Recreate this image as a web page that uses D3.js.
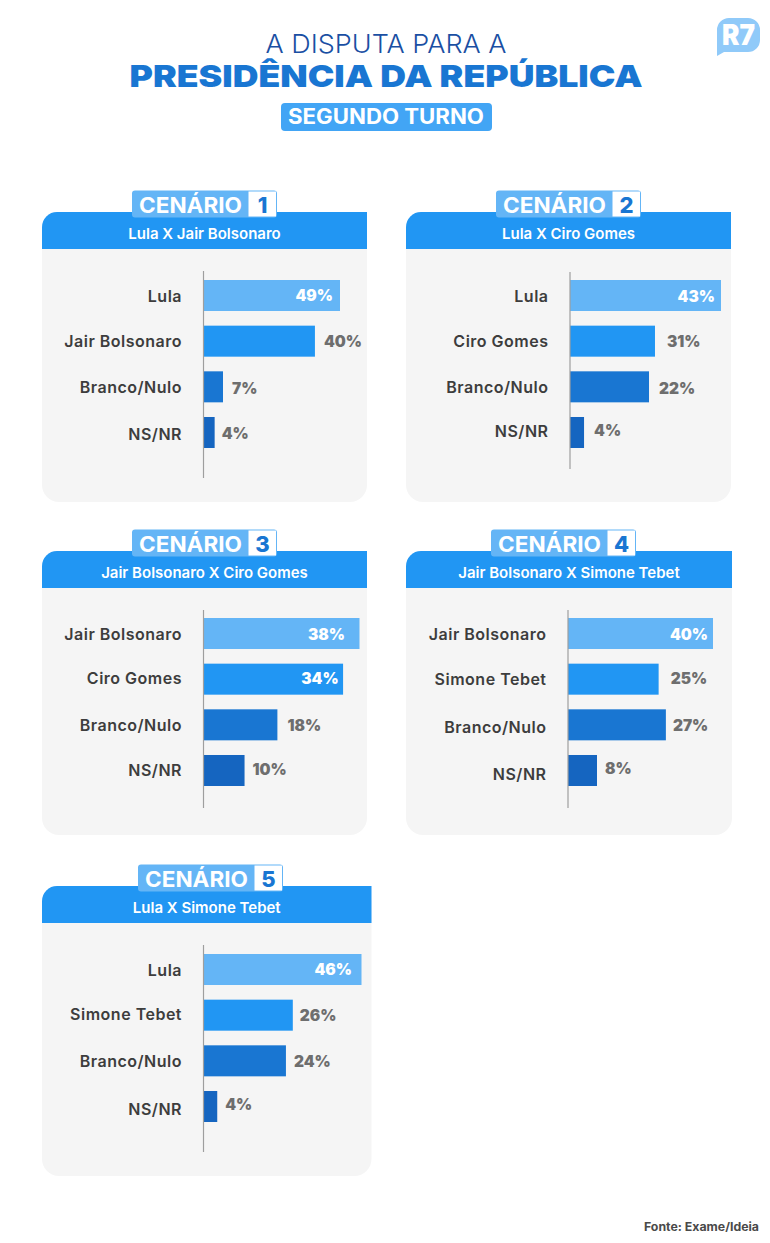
<!DOCTYPE html>
<html lang="pt-BR">
<head>
<meta charset="utf-8">
<title>A disputa para a Presidência da República</title>
<script src="https://cdn.jsdelivr.net/npm/d3@7"></script>
<style>
  html, body { margin: 0; padding: 0; background: #fff; }
  svg { display: block; }
  text { font-family: Inter, "Noto Sans", sans-serif; }
</style>
</head>
<body>
<div id="chart"></div>
<script>
// Values
const scenarioTitles = ["Lula X Jair Bolsonaro", "Lula X Ciro Gomes", "Jair Bolsonaro X Ciro Gomes", "Jair Bolsonaro X Simone Tebet", "Lula X Simone Tebet"];

const scenario1Names = ["Lula", "Jair Bolsonaro", "Branco/Nulo", "NS/NR"];
const scenario1Values = [49, 40, 7, 4];

const scenario2Names = ["Lula", "Ciro Gomes", "Branco/Nulo", "NS/NR"];
const scenario2Values = [43, 31, 22, 4];
// the source draws the 31% bar about as long as a 24% one, so the length is kept apart from the label
const scenario2Lengths = [43, 24.2, 22.5, 4];

const scenario3Names = ["Jair Bolsonaro", "Ciro Gomes", "Branco/Nulo", "NS/NR"];
const scenario3Values = [38, 34, 18, 10];

const scenario4Names = ["Jair Bolsonaro", "Simone Tebet", "Branco/Nulo", "NS/NR"];
const scenario4Values = [40, 25, 27, 8];

const scenario5Names = ["Lula", "Simone Tebet", "Branco/Nulo", "NS/NR"];
const scenario5Values = [46, 26, 24, 4];

const barColors = ["#64b5f6", "#2196f3", "#1976d2", "#1565c0"];

// Layout of each card. Bars are scaled per card, as in the source.
// labelDy / valueDy / valueGap are the small hand placements of the text in the source.
const panels = [
  { names: scenario1Names, values: scenario1Values, lengths: scenario1Values, left: 42, right: 367, top: 212, bottom: 502, badgeX: 132, axisX: 203.5, barEnd: 340, barTop: 280, axisTop: 271, axisBottom: 478, labelDy: [0, 0, 0, 1], valueDy: [0, 0, 1, 1], valueGap: [-7, 9, 9, 7] },
  { names: scenario2Names, values: scenario2Values, lengths: scenario2Lengths, left: 406, right: 731, top: 212, bottom: 502, badgeX: 496, axisX: 570, barEnd: 721, barTop: 280, axisTop: 272, axisBottom: 469, labelDy: [0, 0, 0, -2], valueDy: [1, 0, 1, -2], valueGap: [-6, 12, 10, 10] },
  { names: scenario3Names, values: scenario3Values, lengths: scenario3Values, left: 42, right: 367, top: 551, bottom: 835, badgeX: 132, axisX: 203.5, barEnd: 359.5, barTop: 618, axisTop: 610, axisBottom: 808, labelDy: [0, -1, 0, -1], valueDy: [1, -1, 0, -1], valueGap: [-14.5, -4.5, 10, 8] },
  { names: scenario4Names, values: scenario4Values, lengths: scenario4Values, left: 406, right: 732, top: 551, bottom: 835, badgeX: 491, axisX: 568, barEnd: 713, barTop: 618, axisTop: 610, axisBottom: 808, labelDy: [0, 0, 2, 3], valueDy: [1, -1, 0, -2], valueGap: [-5, 12, 7, 8] },
  { names: scenario5Names, values: scenario5Values, lengths: scenario5Values, left: 42, right: 371.5, top: 886, bottom: 1176, badgeX: 138, axisX: 203.5, barEnd: 361.5, barTop: 954, axisTop: 945, axisBottom: 1152, labelDy: [0, -1, 0, 2], valueDy: [0, 0, 0, -2], valueGap: [-9.5, 7, 8, 8] }
];

const svg = d3.select("#chart")
  .append("svg")
  .attr("width", 770)
  .attr("height", 1243);

// Header
svg.append("text")
  .attr("x", 386).attr("y", 53)
  .attr("text-anchor", "middle")
  .attr("fill", "#1a4fa3")
  .attr("font-size", 26)
  .attr("font-weight", 300)
  .attr("textLength", 241)
  .attr("lengthAdjust", "spacingAndGlyphs")
  .text("A DISPUTA PARA A");

svg.append("text")
  .attr("x", 386).attr("y", 87)
  .attr("text-anchor", "middle")
  .attr("fill", "#1976d2")
  .attr("font-size", 30.5)
  .attr("font-weight", 900)
  .attr("textLength", 513)
  .attr("lengthAdjust", "spacingAndGlyphs")
  .text("PRESIDÊNCIA DA REPÚBLICA");

svg.append("rect")
  .attr("x", 281).attr("y", 103)
  .attr("width", 211).attr("height", 28)
  .attr("rx", 4)
  .attr("fill", "#42a5f5");

svg.append("text")
  .attr("x", 386).attr("y", 124)
  .attr("text-anchor", "middle")
  .attr("fill", "#fff")
  .attr("font-size", 21)
  .attr("font-weight", 700)
  .attr("textLength", 196)
  .attr("lengthAdjust", "spacingAndGlyphs")
  .text("SEGUNDO TURNO");

// R7 logo
svg.append("path")
  .attr("d", "M717,30 a12,12 0 0 1 12,-12 h19 a12,12 0 0 1 12,12 v10 a12,12 0 0 1 -12,12 h-24 l-7,4 z")
  .attr("fill", "#90caf9");

svg.append("text")
  .attr("x", 738.5).attr("y", 45)
  .attr("text-anchor", "middle")
  .attr("fill", "#fff")
  .attr("font-size", 28)
  .attr("font-weight", 900)
  .attr("textLength", 33)
  .attr("lengthAdjust", "spacingAndGlyphs")
  .text("R7");

// Source
svg.append("text")
  .attr("x", 759).attr("y", 1231)
  .attr("text-anchor", "end")
  .attr("fill", "#4a4a4a")
  .attr("font-size", 11.5)
  .attr("font-weight", 700)
  .attr("textLength", 115)
  .attr("lengthAdjust", "spacingAndGlyphs")
  .text("Fonte: Exame/Ideia");

panels.forEach((p, i) => {
  const g = svg.append("g");
  const headerHeight = 37;

  // Card body and header
  g.append("rect")
    .attr("x", p.left).attr("y", p.top)
    .attr("width", p.right - p.left).attr("height", p.bottom - p.top)
    .attr("rx", 17)
    .attr("fill", "#f5f5f5");

  g.append("path")
    .attr("d", `M${p.left},${p.top + headerHeight} V${p.top + 15} a15,15 0 0 1 15,-15 H${p.right} V${p.top + headerHeight} Z`)
    .attr("fill", "#2196f3");

  g.append("text")
    .attr("x", (p.left + p.right) / 2).attr("y", p.top + 27)
    .attr("text-anchor", "middle")
    .attr("fill", "#fff")
    .attr("font-size", 15)
    .attr("font-weight", 600)
    .text(scenarioTitles[i]);

  // Badge
  g.append("rect")
    .attr("x", p.badgeX).attr("y", p.top - 21.5)
    .attr("width", 145).attr("height", 27)
    .attr("rx", 3)
    .attr("fill", "#64b5f6");

  g.append("rect")
    .attr("x", p.badgeX + 116.5).attr("y", p.top - 20.5)
    .attr("width", 27.5).attr("height", 25)
    .attr("fill", "#fff");

  g.append("text")
    .attr("x", p.badgeX + 58.5).attr("y", p.top + 1)
    .attr("text-anchor", "middle")
    .attr("fill", "#fff")
    .attr("font-size", 21.5)
    .attr("font-weight", 700)
    .attr("textLength", 103)
    .attr("lengthAdjust", "spacingAndGlyphs")
    .text("CENÁRIO");

  g.append("text")
    .attr("x", p.badgeX + 130.5).attr("y", p.top + 1)
    .attr("text-anchor", "middle")
    .attr("fill", "#1976d2")
    .attr("font-size", 22)
    .attr("font-weight", 800)
    .text(i + 1);

  // Scales
  const x = d3.scaleLinear()
    .domain([0, d3.max(p.lengths)])
    .range([p.axisX, p.barEnd]);

  const y = d3.scaleBand()
    .domain(p.names)
    .range([p.barTop, p.barTop + 168])
    .paddingInner(0.321)
    .paddingOuter(0);

  // Bars
  g.selectAll("rect.bar")
    .data(p.lengths)
    .enter()
    .append("rect")
    .attr("class", "bar")
    .attr("x", p.axisX)
    .attr("y", (d, j) => y(p.names[j]))
    .attr("width", d => x(d) - p.axisX)
    .attr("height", y.bandwidth())
    .attr("fill", (d, j) => barColors[j]);

  // Category axis
  const axis = g.append("g")
    .attr("transform", `translate(${p.axisX},0)`)
    .call(d3.axisLeft(y).tickSize(0).tickPadding(21.5));

  axis.select(".domain").remove();

  axis.selectAll("text")
    .attr("dy", (d, j) => `${0.38 + p.labelDy[j] / 16}em`)
    .attr("fill", "#3d3d3d")
    .attr("font-family", "Inter, sans-serif")
    .attr("font-size", 16)
    .attr("font-weight", 600)
    .attr("letter-spacing", 0.5);

  g.append("line")
    .attr("x1", p.axisX).attr("x2", p.axisX)
    .attr("y1", p.axisTop).attr("y2", p.axisBottom)
    .attr("stroke", "#9e9e9e")
    .attr("stroke-width", 1.2);

  // Value labels: white inside the long bars, grey after the others
  g.selectAll("text.value")
    .data(p.values)
    .enter()
    .append("text")
    .attr("class", "value")
    .attr("x", (d, j) => x(p.lengths[j]) + p.valueGap[j])
    .attr("y", (d, j) => y(p.names[j]) + y.bandwidth() / 2 + p.valueDy[j])
    .attr("dy", "0.38em")
    .attr("text-anchor", (d, j) => p.valueGap[j] < 0 ? "end" : "start")
    .attr("fill", (d, j) => p.valueGap[j] < 0 ? "#fff" : "#6e6e6e")
    .attr("font-size", 15.5)
    .attr("font-weight", 900)
    .text(d => `${d}%`);
});
</script>
</body>
</html>
